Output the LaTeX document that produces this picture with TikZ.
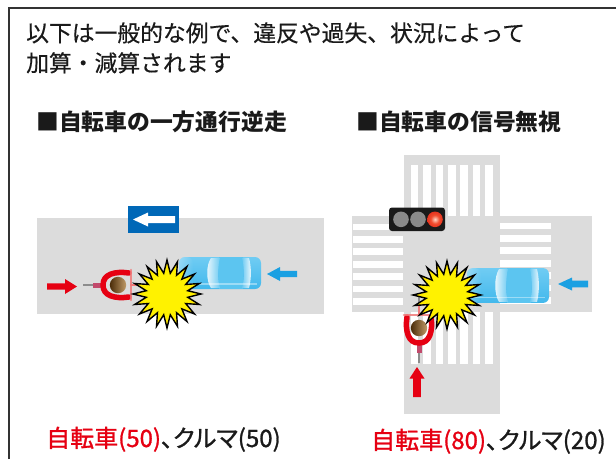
\documentclass[tikz,border=0pt]{standalone}
\usepackage{fontspec}
\setmainfont{Noto Sans CJK JP}
\newfontfamily\leadfont[FakeBold=0.4]{Noto Sans CJK JP}
\newfontfamily\medfont[FakeBold=1.1, RawFeature=+palt]{Noto Sans CJK JP}
\usetikzlibrary{fadings}

\definecolor{ink}{HTML}{1A1A1A}
\definecolor{frame}{HTML}{333333}
\definecolor{roadgray}{HTML}{DCDCDC}
\definecolor{signblue}{HTML}{0068B7}
\definecolor{arrowblue}{HTML}{1AA0E2}
\definecolor{alertred}{HTML}{E60012}
\definecolor{saddlepink}{HTML}{C24A6C}
\definecolor{spokegray}{HTML}{8C8C8C}
\definecolor{barpink}{HTML}{F07A7A}
\definecolor{headlight}{HTML}{C09A68}
\definecolor{headdark}{HTML}{4A2C08}
\definecolor{lampgray}{HTML}{8A8A8A}
\definecolor{lampcase}{HTML}{1A1A1A}
\definecolor{burstcore}{HTML}{FFF200}
\definecolor{burstedge}{HTML}{F5AC00}
\definecolor{carlight}{HTML}{70CCF3}
\definecolor{carmid}{HTML}{04A2E6}
\definecolor{carroof}{HTML}{0094DA}
\definecolor{carroofedge}{HTML}{5CC5F0}
\definecolor{carlow}{HTML}{42B8EC}
\definecolor{redcore}{HTML}{FFD8C8}
\definecolor{redmid}{HTML}{F04A2C}
\definecolor{rededge}{HTML}{D81810}

% colour ramps for the burst and the red lamp
\pgfdeclareradialshading{burstshade}{\pgfpoint{0bp}{0bp}}{%
  color(0bp)=(burstcore); color(16bp)=(burstcore); color(40bp)=(burstedge); color(50bp)=(burstedge)}
\pgfdeclareradialshading{lampshade}{\pgfpoint{0bp}{0bp}}{%
  color(0bp)=(redcore); color(14bp)=(redmid); color(40bp)=(rededge); color(50bp)=(rededge)}

% solid block arrow: colour, tail x, tail y, angle, length, head length, head half-width, shaft half-width
\newcommand\blockarrow[8]{%
  \fill[#1, shift={(#2,#3)}, rotate=#4]
    (0,-#8) -- ({#5-#6},-#8) -- ({#5-#6},-#7) -- (#5,0) -- ({#5-#6},#7) -- ({#5-#6},#8) -- (0,#8) -- cycle;}

\tikzset{
  leadtext/.style={font=\leadfont\fontsize{22.8}{27}\selectfont, anchor=base west, inner sep=0, text=ink},
  headtext/.style={font=\bfseries\fontsize{22.8}{27}\selectfont, anchor=base west, inner sep=0, text=ink},
  scoretext/.style={font=\medfont\fontsize{24}{28}\selectfont, anchor=base west, inner sep=0, text=ink},
  % bicycle seen from above, riding towards +x, rider's head at the origin
  bike/.pic={
    \draw[spokegray, line width=1.5] (-35,0) -- (-23,0);
    \draw[spokegray, line width=1.5] (12,0) -- (32,0);
    \draw[saddlepink, line width=5] (-25,0) -- (-12,0);
    \draw[barpink, line width=2] (12,0) -- (24,0);
    \draw[alertred, line width=5.5, line cap=round]
      (11,-12) .. controls (-3,-14) and (-15,-11) .. (-15,0)
               .. controls (-15,11) and (-3,14) .. (11,12);
    \draw[barpink, line width=2.6, opacity=.85, line cap=round] (13,-15) -- (13,15);
    \shade[left color=headdark, right color=headlight] (0,0) circle (8.2);
  },
  % car seen from above, front at x=0, heading towards -x
  car/.pic={
    \shade[top color=carlight, middle color=carmid, bottom color=carlow, rounded corners=6]
      (0,-16) rectangle (82,16);
    \fill[white, opacity=.3, path fading=east, rounded corners=6] (0,-16) rectangle (14,16);
    \shade[top color=carroofedge, middle color=carroof, bottom color=carroofedge]
      (40,-15.5) rectangle (64,15.5);
    \shade[left color=white, right color=carlight, opacity=.9]
      (32,-15) .. controls (27,-8) and (27,8) .. (32,15) -- (41,15)
      .. controls (38.5,8) and (38.5,-8) .. (41,-15) -- cycle;
    \shade[left color=carlight, right color=white, opacity=.9]
      (63,-15) .. controls (65.5,-6) and (65.5,6) .. (63,15) -- (70,15)
      .. controls (72.5,6) and (72.5,-6) .. (70,-15) -- cycle;
    \draw[white, opacity=.4, line width=1.3] (6,11) -- (78,11);
  },
  % collision burst
  burst/.pic={
    \shade[shading=burstshade, draw=black, line width=1.4, line join=miter]
      (0:34) \foreach \k in {1,...,39}{ -- ({\k*9}:{ifthenelse(isodd(\k),21,34)}) } -- cycle;
  }
}

\begin{document}
\begin{tikzpicture}[x=1pt, y=-1pt]
\useasboundingbox (0,0) rectangle (616,459);
\fill[white] (0,0) rectangle (616,459);

% frame
\draw[frame, line width=1.4] (9,459) -- (9,8) -- (616,8);

% lead text
\node[leadtext] (lead1) at (26,41.5) {以下は一般的な例で、違反や過失、状況によって};
\node[leadtext] (lead2) at (26,71.5) {加算・減算されます};

% headings
\node[headtext] (titleL) at (36,130.5) {■自転車の一方通行逆走};
\node[headtext] (titleR) at (356,130.5) {■自転車の信号無視};

% ---------- one-way street, wrong direction ----------
\fill[roadgray] (37,218) rectangle (324,314);
\fill[signblue] (128,206) rectangle (179,233);
\blockarrow{white}{175}{219.5}{180}{42}{15}{7}{3.5}

\pic at (179,273) {car};
\pic at (118,285) {bike};
\pic at (167,294) {burst};

\blockarrow{alertred}{47}{286.5}{0}{30}{12}{7.5}{3.2}
\blockarrow{arrowblue}{297}{274}{180}{30}{13}{7}{3.2}

% ---------- intersection, red light ----------
\fill[roadgray] (404,155) rectangle (500,414);
\fill[roadgray] (352,216) rectangle (592,312);
\foreach \i in {0,...,6} {
  \fill[white] ({410.8+12.4*\i},165) rectangle ++(7.6,51);
  \fill[white] ({410.8+12.4*\i},312) rectangle ++(7.6,52);
  \fill[white] (352.5,{223.5+12.4*\i}) rectangle ++(50.5,6.8);
  \fill[white] (500,{222.5+12.4*\i}) rectangle ++(51,6.8);
}

% signal
\fill[lampcase, rounded corners=3] (389,207.5) rectangle (445,231);
\fill[lampgray] (401,219.3) circle (7.8);
\fill[lampgray] (418,219.3) circle (7.8);
\shade[shading=lampshade] (435,219.3) circle (7.8);

\pic[yscale=1.09] at (467,285.5) {car};
\pic[rotate=90] at (419,328) {bike};
\pic at (447,295) {burst};

\blockarrow{arrowblue}{588}{284}{180}{30}{14}{6.5}{3.3}
\blockarrow{alertred}{417}{397}{90}{30}{11.5}{7.5}{3.8}

% fault ratios
\node[scoretext] (ratioL) at (46,447) {\textcolor{alertred}{自転車(50)}、クルマ(50)};
\node[scoretext] (ratioR) at (371,449) {\textcolor{alertred}{自転車(80)}、クルマ(20)};
\end{tikzpicture}
\end{document}
